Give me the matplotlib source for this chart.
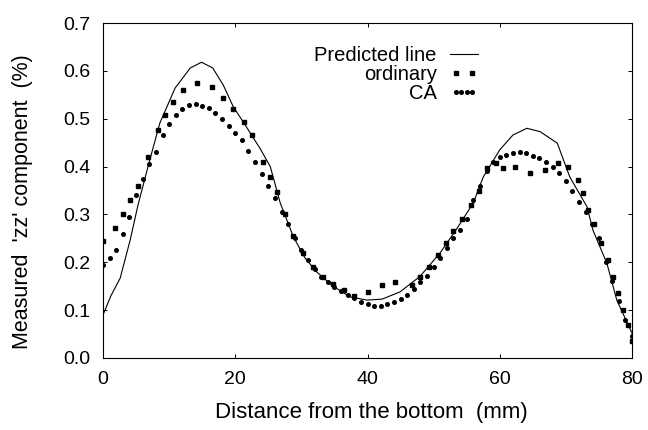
import numpy as np
from matplotlib import pyplot as plt
from matplotlib.legend_handler import HandlerLine2D

# values
pred_x = [0, 1.2, 2.6, 4.1, 5.3, 7, 8.6, 10.9, 13.2, 14.9, 16.6, 18.2, 19.7, 21.5,
          23.7, 25.3, 26.8, 28.8, 30.5, 32.3, 34.8, 37.3, 39.9, 42.2, 44.9, 47.9,
          51, 53.5, 56, 57.5, 60, 62, 64.1, 66.1, 68.7, 70.6, 73.2, 74.1, 76.2,
          77.7, 80]
pred_y = [0.09, 0.13, 0.167, 0.246, 0.32, 0.41, 0.491, 0.564, 0.606, 0.618, 0.606,
          0.57, 0.525, 0.487, 0.439, 0.40, 0.324, 0.253, 0.21, 0.18, 0.15, 0.128,
          0.121, 0.123, 0.138, 0.17, 0.22, 0.27, 0.324, 0.378, 0.435, 0.466, 0.48,
          0.473, 0.449, 0.378, 0.316, 0.267, 0.198, 0.121, 0.052]

ord_x = [0, 1.8, 3, 4.1, 5.3, 6.8, 8.3, 9.4, 10.6, 12.1, 14.2, 16.5, 18.1, 19.7,
         21.3, 22.5, 24.2, 25.2, 26.3, 27.5, 28.8, 30.2, 31.8, 33.2, 34.8, 36.4,
         38, 40.1, 42.2, 44.2, 46.7, 48, 49.3, 50.6, 51.8, 53, 54.3, 55.6, 56.8,
         58, 59.5, 60.5, 62.3, 64.6, 66.8, 68.8, 70.3, 71.8, 72.6, 73.3, 74.3,
         75.3, 76.3, 77.2, 77.9, 78.7, 79.4, 80]
ord_y = [0.245, 0.272, 0.3, 0.33, 0.36, 0.42, 0.476, 0.508, 0.535, 0.56, 0.574,
         0.566, 0.543, 0.52, 0.493, 0.466, 0.41, 0.378, 0.347, 0.3, 0.255, 0.22,
         0.19, 0.17, 0.155, 0.142, 0.13, 0.138, 0.153, 0.159, 0.152, 0.17, 0.19,
         0.215, 0.24, 0.265, 0.29, 0.32, 0.35, 0.397, 0.407, 0.397, 0.40, 0.386,
         0.393, 0.407, 0.40, 0.372, 0.345, 0.31, 0.28, 0.24, 0.205, 0.17, 0.135,
         0.1, 0.07, 0.035]

ca_x = list(range(0, 81))
ca_y = [0.195, 0.21, 0.225, 0.26, 0.295, 0.34, 0.375, 0.405, 0.43, 0.465, 0.49,
        0.508, 0.52, 0.528, 0.53, 0.527, 0.522, 0.512, 0.5, 0.484, 0.47, 0.455,
        0.432, 0.41, 0.385, 0.36, 0.335, 0.305, 0.28, 0.25, 0.225, 0.205, 0.185,
        0.17, 0.158, 0.148, 0.14, 0.132, 0.126, 0.118, 0.112, 0.109, 0.109, 0.113,
        0.118, 0.123, 0.132, 0.145, 0.158, 0.172, 0.19, 0.21, 0.23, 0.25, 0.268,
        0.29, 0.33, 0.36, 0.39, 0.41, 0.42, 0.425, 0.428, 0.43, 0.428, 0.423,
        0.418, 0.41, 0.40, 0.387, 0.37, 0.348, 0.326, 0.305, 0.28, 0.25, 0.2,
        0.16, 0.12, 0.08, 0.045]

plt.rcParams['font.family'] = 'Liberation Sans'

fig = plt.figure(figsize=(6.48, 4.30), dpi=100)
ax = fig.add_axes([103/648, 1 - 358/430, 529/648, 335/430])

ln_pred, = ax.plot(pred_x, pred_y, color='k', lw=0.8, label='Predicted line')
ln_ord, = ax.plot(ord_x, ord_y, ls='none', marker='s', ms=2.5, color='k',
                  label='ordinary')
ln_ca, = ax.plot(ca_x, ca_y, ls='none', marker='o', ms=2.6, color='k',
                 label='CA')

ax.set_xlim(0, 80)
ax.set_ylim(0, 0.7)
ax.set_xticks([0, 20, 40, 60, 80])
ax.set_yticks(np.arange(0, 0.71, 0.1))
ax.set_yticklabels(['%.1f' % v for v in np.arange(0, 0.71, 0.1)])
ax.tick_params(direction='in', top=True, right=True, length=3, width=0.7,
               labelsize=14, pad=9)
for s in ax.spines.values():
    s.set_linewidth(0.8)

ax.set_xlabel('Distance from the bottom  (mm)', fontsize=16, va='center')
ax.xaxis.set_label_coords(0.507, -0.164)
ax.set_ylabel("Measured  'zz' component  (%)", fontsize=15.5, va='center')
ax.yaxis.set_label_coords(-0.153, 0.466)

ax.legend(handles=[ln_pred, ln_ord, ln_ca], loc='upper right',
          bbox_to_anchor=(0.709, 0.93), frameon=False, markerfirst=False,
          fontsize=14.5, labelspacing=0.0, handlelength=1.4, handletextpad=0.65,
          borderaxespad=0, borderpad=0,
          handler_map={ln_ord: HandlerLine2D(numpoints=2),
                       ln_ca: HandlerLine2D(numpoints=4)})

fig.savefig('out.png', dpi=100)
